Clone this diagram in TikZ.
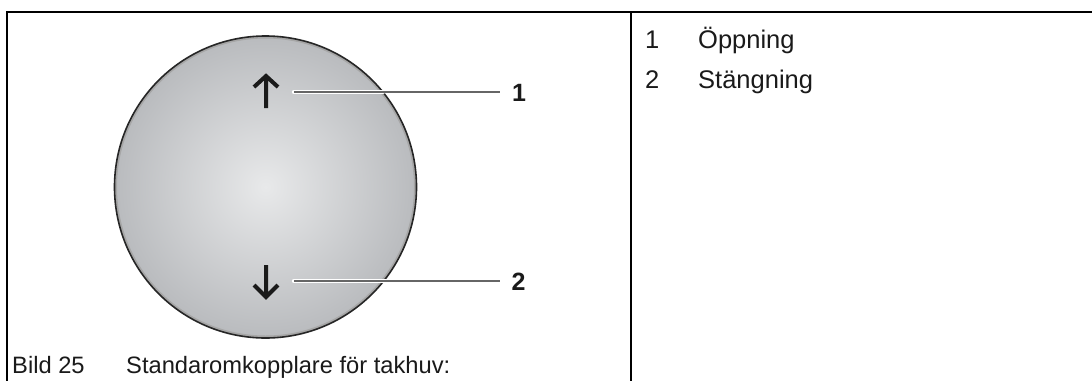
\documentclass[tikz,border=0pt]{standalone}
\usepackage{fontspec}
\setmainfont{Liberation Sans}
\definecolor{discmid}{HTML}{E8E9EA}
\definecolor{discedge}{HTML}{B9BBBE}
\definecolor{ink}{HTML}{1A1A1A}
\tikzset{x=1pt,y=-1pt,
 frameline/.style={line width=2pt,black},
 leaderline/.style={line width=1.8pt,black!60},
 halo/.style={line width=4.4pt,white,line cap=round},
 dirarrow/.style={line width=4pt,ink,line join=miter},
 caption/.style={inner sep=0pt,anchor=base west,font=\fontsize{23.7}{24}\selectfont,text=ink},
 listtext/.style={inner sep=0pt,anchor=base west,font=\fontsize{25.5}{26}\selectfont,text=ink},
 callout/.style={inner sep=0pt,anchor=base west,font=\fontsize{25}{25}\selectfont\bfseries,text=ink}}
\begin{document}
\begin{tikzpicture}
\useasboundingbox (0,0) rectangle (1092,381);
\fill[white] (0,0) rectangle (1092,381);
\coordinate (tl) at (7,381); \coordinate (tr) at (1092,12);
\coordinate (t0) at (6,12); \coordinate (tlc) at (7,12);
\coordinate (tmb) at (631,381);\coordinate (tmt) at (631,12);
\draw[frameline] (t0) -- (tr);
\draw[frameline] (tlc) -- (tl);
\draw[frameline] (tmt) -- (tmb);
\coordinate (c) at (265.5,187);
\shade[inner color=discmid,outer color=discedge] (c) circle (151);
\draw[line width=2pt,black!35] (c) circle (149.5);
\draw[line width=1.6pt,black!85] (c) circle (151);
\coordinate (u1) at (266,108);\coordinate (u2) at (266,76);
\coordinate (ua) at (254,87);\coordinate (ub) at (278,87);
\draw[dirarrow] (u1) -- (u2) (ua) -- (u2) -- (ub);
\coordinate (d1) at (266,265);\coordinate (d2) at (266,297);
\coordinate (da) at (254,285);\coordinate (db) at (278,285);
\draw[dirarrow] (d1) -- (d2) (da) -- (d2) -- (db);
\node[callout] (n1) at (512,101) {1};
\node[callout] (n2) at (511.5,290.5) {2};
\coordinate (l1) at (294,92);\coordinate (l1e) at (383,92);\coordinate (l1f) at (500,92);
\coordinate (l2) at (294,281);\coordinate (l2e) at (396,281);\coordinate (l2f) at (500,281);
\draw[halo] (l1) -- (l1e);\draw[halo] (l2) -- (l2e);
\draw[leaderline] (l1) -- (l1f);\draw[leaderline] (l2) -- (l2f);
\node[caption] (cap1) at (12,373) {Bild 25};
\node[caption] (cap2) at (126,373) {Standaromkopplare för takhuv:};
\node[listtext] (a1) at (645,48.5) {1};
\node[listtext] (a2) at (698,48.5) {Öppning};
\node[listtext] (b1) at (645,88.5) {2};
\node[listtext] (b2) at (698,88.5) {Stängning};
\end{tikzpicture}
\end{document}
